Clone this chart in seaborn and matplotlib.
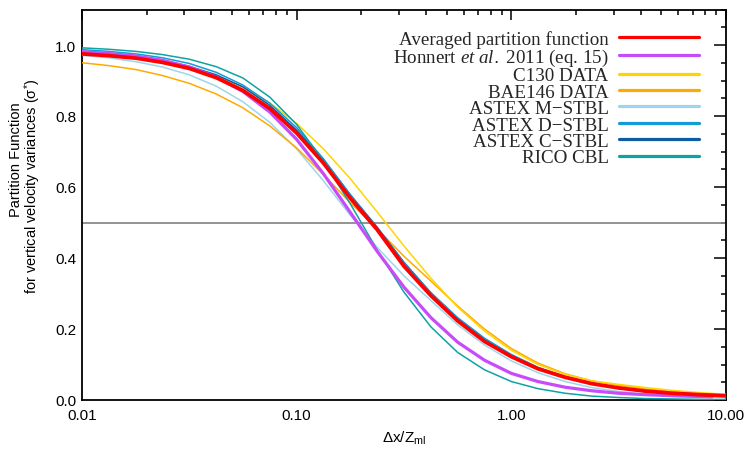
import numpy as np
import pandas as pd
import matplotlib
matplotlib.use("Agg")
import matplotlib.pyplot as plt
import seaborn as sns
from matplotlib.lines import Line2D
from matplotlib.ticker import FixedLocator, MultipleLocator, LogLocator, NullFormatter
from matplotlib.font_manager import FontProperties

# ---------------- data ----------------
X = [0.01, 0.0133, 0.0178, 0.0237, 0.0316, 0.0422, 0.0562, 0.075,
     0.1, 0.133, 0.178, 0.237, 0.316, 0.422, 0.562, 0.75,
     1.0, 1.33, 1.78, 2.37, 3.16, 4.22, 5.62, 7.5, 10.0]

averaged = [0.975, 0.970, 0.963, 0.951, 0.934, 0.908, 0.872, 0.821, 0.752, 0.668,
            0.568, 0.480, 0.377, 0.294, 0.223, 0.165, 0.122, 0.088, 0.064, 0.046,
            0.034, 0.025, 0.019, 0.015, 0.012]
honnert_x = [0.01, 0.0133, 0.0178, 0.0237, 0.0316, 0.0422, 0.0562, 0.075,
             0.1, 0.133, 0.178, 0.237, 0.316, 0.422, 0.562, 0.75,
             1.0, 1.33, 1.78, 2.37, 3.16, 4.22, 5.62, 7.5, 8.6]
honnert = [0.981, 0.976, 0.969, 0.957, 0.938, 0.910, 0.869, 0.811, 0.734, 0.638,
           0.528, 0.419, 0.318, 0.232, 0.163, 0.112, 0.075, 0.052, 0.036, 0.026,
           0.019, 0.015, 0.012, 0.010, 0.009]
c130 = [0.978, 0.973, 0.965, 0.953, 0.937, 0.913, 0.881, 0.837, 0.779, 0.708,
        0.623, 0.530, 0.434, 0.343, 0.262, 0.194, 0.140, 0.100, 0.072, 0.054,
        0.044, 0.035, 0.027, 0.021, 0.016]
bae146 = [0.950, 0.942, 0.931, 0.914, 0.892, 0.862, 0.823, 0.772, 0.710, 0.636,
          0.555, 0.482, 0.405, 0.335, 0.265, 0.200, 0.145, 0.104, 0.074, 0.054,
          0.041, 0.031, 0.024, 0.018, 0.014]
astex_m = [0.971, 0.964, 0.953, 0.938, 0.916, 0.884, 0.840, 0.782, 0.707, 0.618,
           0.520, 0.430, 0.350, 0.280, 0.212, 0.155, 0.110, 0.077, 0.052, 0.035,
           0.024, 0.016, 0.011, 0.008, 0.006]
astex_d = [0.987, 0.982, 0.975, 0.964, 0.948, 0.923, 0.887, 0.836, 0.767, 0.680,
           0.577, 0.485, 0.385, 0.302, 0.232, 0.174, 0.128, 0.092, 0.065, 0.046,
           0.033, 0.023, 0.017, 0.013, 0.010]
astex_c = [0.982, 0.977, 0.969, 0.957, 0.940, 0.916, 0.882, 0.830, 0.760, 0.678,
           0.578, 0.487, 0.388, 0.302, 0.230, 0.172, 0.127, 0.091, 0.066, 0.048,
           0.035, 0.026, 0.020, 0.015, 0.012]
rico = [0.992, 0.988, 0.982, 0.973, 0.960, 0.939, 0.907, 0.853, 0.776, 0.674,
        0.552, 0.423, 0.304, 0.206, 0.134, 0.085, 0.052, 0.032, 0.019, 0.011,
        0.007, 0.004, 0.003, 0.002, 0.001]

labels = ["Averaged partition function", r"Honnert $\mathit{et\ al.}$ 2011 (eq. 15)",
          "C130 DATA", "BAE146 DATA", "ASTEX M\u2212STBL", "ASTEX D\u2212STBL",
          "ASTEX C\u2212STBL", "RICO CBL"]
colors = ["#FF0000", "#C84BFA", "#FFD500", "#FFAA00", "#9DD6EC", "#139BD6",
          "#0B5DA6", "#0EA3A3"]

XTICKS = [0.01, 0.1, 1.0, 10.0]
XTICK_LABELS = ["0.01", "0.10", "1.00", "10.00"]
YTICKS = [0.0, 0.2, 0.4, 0.6, 0.8, 1.0]
YTICK_LABELS = ["0.0", "0.2", "0.4", "0.6", "0.8", "1.0"]

# ---------------- style ----------------
sns.set_theme(style="white")
plt.rcParams["font.family"] = ["Liberation Sans", "DejaVu Sans"]
plt.rcParams["mathtext.fontset"] = "custom"
plt.rcParams["mathtext.rm"] = "Liberation Sans"
plt.rcParams["mathtext.it"] = "Liberation Serif:italic"

fig = plt.figure(figsize=(7.51, 4.52), dpi=100)
W, H = 751, 452
ax = fig.add_axes([82 / W, 1 - 401 / H, (726 - 82) / W, (401 - 10.5) / H])

series = [
    (X, astex_m, 4, 1.1),
    (X, bae146, 3, 1.1),
    (X, c130, 2, 1.1),
    (X, astex_c, 6, 1.1),
    (X, astex_d, 5, 1.1),
    (X, rico, 7, 1.1),
    (honnert_x, honnert, 1, 2.3),
    (X, averaged, 0, 2.7),
]
for xs, ys, idx, lw in series:
    df = pd.DataFrame({"x": xs, "y": ys})
    sns.lineplot(data=df, x="x", y="y", color=colors[idx], linewidth=lw, ax=ax,
                 legend=False, sort=False, estimator=None, zorder=3)

ax.axhline(0.5, color="#8a8a8a", lw=1.3, zorder=1)

ax.set_xscale("log")
ax.set_xlim(0.01, 10)
ax.set_ylim(0, 1.1)
ax.set_xticks(XTICKS, labels=XTICK_LABELS)
ax.xaxis.set_minor_locator(LogLocator(base=10, subs=np.arange(2, 10)))
ax.xaxis.set_minor_formatter(NullFormatter())
ax.yaxis.set_major_locator(FixedLocator(YTICKS))
ax.set_yticklabels(YTICK_LABELS)
ax.yaxis.set_minor_locator(MultipleLocator(0.05))

ax.tick_params(which="both", direction="in", top=True, right=True,
               color="black", width=1.1, labelsize=11, labelcolor="black")
ax.tick_params(which="major", length=7, pad=6)
ax.tick_params(axis="y", which="major", length=9, pad=4)
ax.tick_params(which="minor", length=3.8)
for s in ax.spines.values():
    s.set_color("black")
    s.set_linewidth(1.3)

ax.set_xlabel(r"$\Delta$x/Z$_{\rm ml}$", fontsize=11, color="black", labelpad=5)
ax.set_ylabel("")

fig.text(16 / W, 1 - 160 / H, "Partition Function", rotation=90,
         ha="center", va="center", fontsize=10.5, color="black")
fig.text(33 / W, 1 - 186 / H, "for vertical velocity variances (\u03c3$^{*}$)",
         rotation=90, ha="center", va="center", fontsize=10.5, color="black")

handles = [Line2D([], [], color=c, lw=2.3) for c in colors]
leg_font = FontProperties(family="Liberation Serif", size=13.7)
leg = ax.legend(handles, labels, loc="upper right", frameon=False,
                bbox_to_anchor=(699 / W, 1 - 31 / H), bbox_transform=fig.transFigure,
                markerfirst=False, prop=leg_font, handlelength=4.2,
                handletextpad=0.55, labelspacing=-0.05, borderpad=0,
                borderaxespad=0)
for t in leg.get_texts():
    t.set_ha("right")
leg._legend_box.align = "right"

fig.savefig("out.png", dpi=100)
